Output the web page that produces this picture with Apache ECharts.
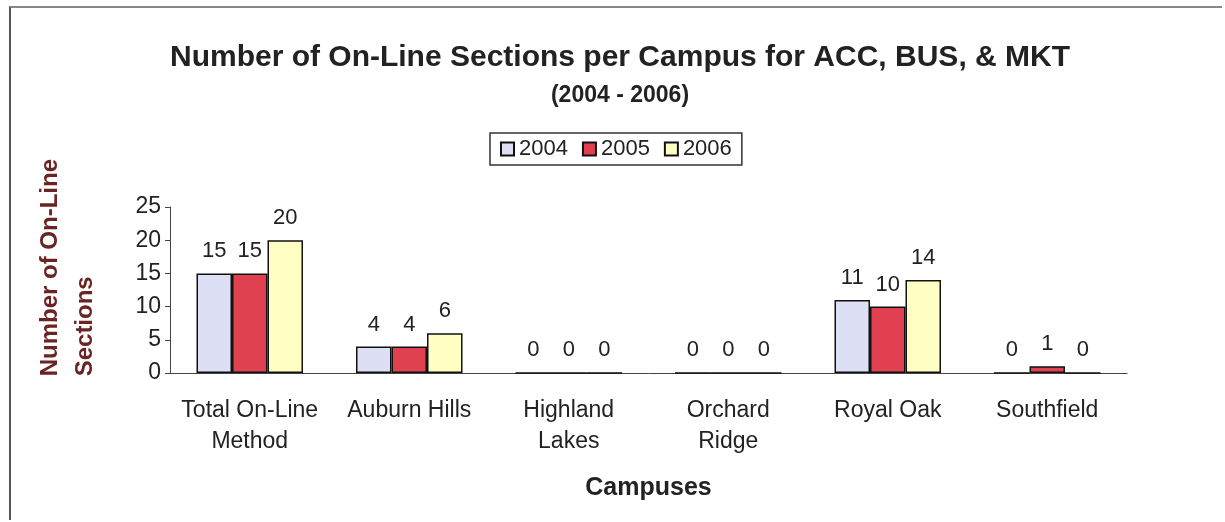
<!DOCTYPE html>
<html>
<head>
<meta charset="utf-8">
<script src="https://cdn.jsdelivr.net/npm/echarts@6/dist/echarts.min.js"></script>
<style>
  html, body { margin: 0; padding: 0; background: #fff; }
  #frame { position: absolute; left: 9px; top: 6px; width: 1213px; height: 514px;
           border-left: 2px solid #555; border-top: 2px solid #888; box-sizing: border-box; }
  #chart { position: absolute; left: 0; top: 0; width: 1225px; height: 522px; }
</style>
</head>
<body>
<div id="frame"></div>
<div id="chart"></div>
<script>
// Campuses and on-line section counts per year
const campuses = ['Total On-Line\nMethod', 'Auburn Hills', 'Highland\nLakes', 'Orchard\nRidge', 'Royal Oak', 'Southfield'];
const years = ['2004', '2005', '2006'];
const sections2004 = [15, 4, 0, 0, 11, 0];
const sections2005 = [15, 4, 0, 0, 10, 1];
const sections2006 = [20, 6, 0, 0, 14, 0];
const yTicks = [0, 5, 10, 15, 20, 25];

const colors = ['#dde0f4', '#e0404f', '#ffffc4'];
const font = 'Liberation Sans, Arial, sans-serif';
const seriesValues = [sections2004, sections2005, sections2006];

const chart = echarts.init(document.getElementById('chart'), null, { renderer: 'canvas' });
chart.setOption({
  backgroundColor: 'transparent',
  animation: false,
  title: [
    { text: 'Number of On-Line Sections per Campus for ACC, BUS, & MKT', left: 615, top: 38, textAlign: 'center',
      textStyle: { fontFamily: font, fontWeight: 'bold', fontSize: 30, color: '#222' } },
    { text: '(2004 - 2006)', left: 615, top: 79, textAlign: 'center',
      textStyle: { fontFamily: font, fontWeight: 'bold', fontSize: 23, color: '#222' } }
  ],
  legend: {
    data: years, left: 490, top: 133, width: 250,
    padding: [5, 10], itemGap: 14, itemWidth: 13, itemHeight: 13,
    borderColor: '#333', borderWidth: 1.5,
    icon: 'rect',
    textStyle: { fontFamily: font, fontSize: 22, color: '#222', padding: [0, 0, 0, 0] }
  },
  // y-axis title drawn as two rotated lines
  graphic: [{
    type: 'text', left: 33, top: 159, rotation: Math.PI / 2,
    style: { text: 'Number of On-Line\nSections', fontFamily: font, fontWeight: 'bold', fontSize: 24,
      fill: '#6a2424', lineHeight: 35, align: 'center' }
  }],
  grid: { left: 170, right: 98, top: 207, bottom: 149, containLabel: false },
  xAxis: {
    type: 'category', data: campuses,
    name: 'Campuses', nameLocation: 'middle', nameGap: 103,
    nameTextStyle: { fontFamily: font, fontWeight: 'bold', fontSize: 25, color: '#222' },
    axisLine: { lineStyle: { color: '#444', width: 1 } },
    axisTick: { length: 6, lineStyle: { color: '#444' } },
    axisLabel: { fontFamily: font, fontSize: 23, color: '#222', margin: 22, lineHeight: 31, interval: 0 }
  },
  yAxis: {
    type: 'value', min: 0, max: 25, interval: 5,
    splitLine: { show: false },
    axisLine: { show: true, lineStyle: { color: '#444', width: 1 } },
    axisTick: { show: true, length: 5, lineStyle: { color: '#444' } },
    axisLabel: { fontFamily: font, fontSize: 23, color: '#222', margin: 9,
      formatter: v => (yTicks.includes(v) ? String(v) : '') }
  },
  series: seriesValues.map((vals, i) => ({
    name: years[i], type: 'bar', data: vals,
    barWidth: 35.5, barGap: '0%',
    itemStyle: { color: colors[i], borderColor: '#111', borderWidth: 1.5 },
    label: { show: true, position: 'top', distance: 11,
      fontFamily: font, fontSize: 22, color: '#222' }
  }))
});
</script>
</body>
</html>
